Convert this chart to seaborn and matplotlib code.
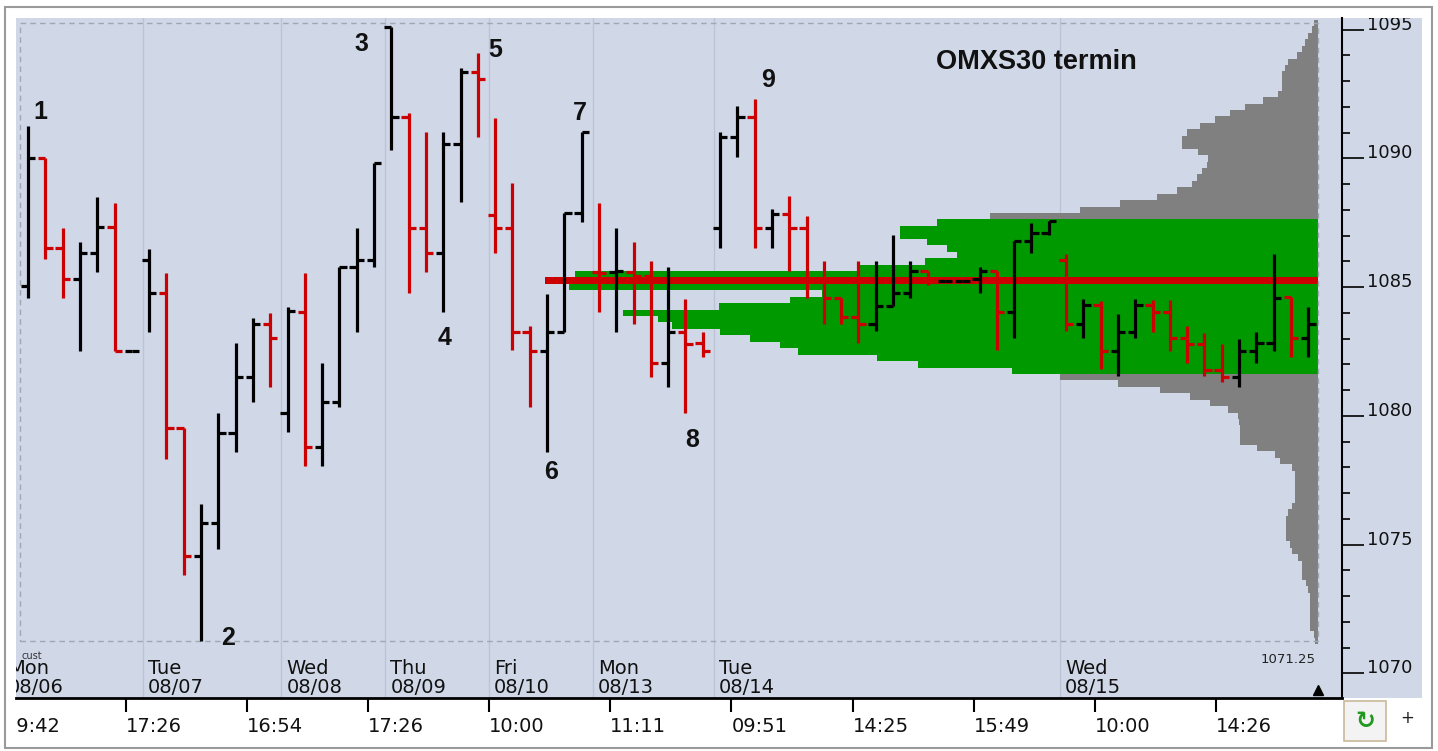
import numpy as np
import pandas as pd
import seaborn as sns
import matplotlib.pyplot as plt
from matplotlib.patches import Rectangle
from matplotlib import transforms
from matplotlib.ticker import MultipleLocator

sns.set_theme(style='white')
plt.rcParams['font.family'] = ['DejaVu Sans']

# ---- OHLC bars (one per period) ----
opens = [1085.04, 1090.01, 1086.51, 1085.31, 1086.32, 1087.33, 1082.53, 1086.05, 1084.77, 1079.52,
         1074.55, 1075.83, 1079.35, 1081.50, 1083.56, 1080.11, 1084.03, 1078.79, 1080.53, 1085.76,
         1086.05, 1095.10, 1091.60, 1087.29, 1086.32, 1090.55, 1093.35, 1087.80, 1087.29, 1083.27,
         1082.53, 1083.27, 1087.87, 1085.58, 1085.58, 1085.58, 1085.43, 1082.05, 1083.27, 1082.83,
         1087.29, 1090.83, 1091.60, 1087.29, 1087.84, 1087.29, 1085.27, 1084.57, 1083.83, 1083.56,
         1084.26, 1084.77, 1085.62, 1085.25, 1085.25, 1085.31, 1085.62, 1084.03, 1086.79, 1087.10,
         1086.05, 1083.56, 1084.30, 1082.53, 1083.27, 1084.30, 1084.03, 1083.02, 1082.79, 1081.78,
         1081.50, 1082.53, 1082.83, 1084.61, 1083.02]
highs = [1091.25, 1090.01, 1087.29, 1086.75, 1088.50, 1088.26, 1082.53, 1086.48, 1085.54, 1079.52,
         1076.57, 1080.09, 1082.81, 1083.80, 1083.99, 1084.22, 1085.54, 1082.05, 1085.76, 1087.29,
         1089.82, 1095.10, 1091.76, 1091.02, 1091.02, 1093.50, 1094.09, 1091.56, 1089.04, 1083.49,
         1084.73, 1087.87, 1091.02, 1088.26, 1087.29, 1086.75, 1086.01, 1085.76, 1084.53, 1083.27,
         1091.02, 1092.03, 1092.30, 1088.03, 1088.53, 1087.76, 1086.01, 1084.57, 1086.01, 1086.01,
         1087.02, 1086.01, 1085.62, 1085.25, 1085.25, 1085.76, 1085.62, 1086.79, 1087.49, 1087.56,
         1086.28, 1084.53, 1084.45, 1083.95, 1084.53, 1084.49, 1084.49, 1083.49, 1083.21, 1082.79,
         1082.98, 1083.27, 1086.28, 1084.61, 1084.22]
lows = [1084.57, 1086.09, 1084.57, 1082.53, 1085.58, 1082.53, 1082.53, 1083.27, 1078.32, 1073.82,
        1071.25, 1074.83, 1078.59, 1080.53, 1081.12, 1079.37, 1078.05, 1078.05, 1080.36, 1083.27,
        1085.78, 1090.32, 1084.77, 1085.58, 1084.03, 1088.30, 1090.83, 1086.32, 1082.55, 1080.34,
        1078.59, 1083.27, 1087.52, 1084.03, 1083.27, 1083.56, 1081.50, 1081.12, 1080.11, 1082.28,
        1086.51, 1090.05, 1086.51, 1086.51, 1085.62, 1084.57, 1083.56, 1083.56, 1082.83, 1083.29,
        1084.26, 1084.57, 1085.08, 1085.25, 1085.25, 1084.77, 1082.55, 1083.02, 1086.32, 1087.02,
        1083.29, 1083.02, 1081.81, 1081.54, 1083.02, 1083.27, 1082.53, 1082.05, 1081.54, 1081.31,
        1081.12, 1082.05, 1082.53, 1082.28, 1082.28]
closes = [1090.01, 1086.51, 1085.31, 1086.32, 1087.33, 1082.53, 1082.53, 1084.77, 1079.52, 1074.55,
          1075.83, 1079.35, 1081.50, 1083.56, 1083.02, 1084.07, 1078.79, 1080.53, 1085.76, 1086.05,
          1089.82, 1091.60, 1087.29, 1086.32, 1090.55, 1093.35, 1093.08, 1087.29, 1083.27, 1082.53,
          1083.27, 1087.87, 1091.02, 1085.54, 1085.62, 1085.43, 1082.05, 1083.27, 1082.79, 1082.53,
          1090.83, 1091.60, 1087.29, 1087.84, 1087.29, 1085.27, 1084.57, 1083.83, 1083.56, 1084.26,
          1084.77, 1085.62, 1085.19, 1085.25, 1085.25, 1085.62, 1084.03, 1086.79, 1087.10, 1087.56,
          1083.56, 1084.30, 1082.53, 1083.27, 1084.30, 1084.03, 1083.02, 1082.79, 1081.78, 1081.50,
          1082.53, 1082.83, 1084.57, 1083.02, 1083.56]

# ---- volume profile, price levels 1095.25 down to 1071.25 ----
profile_volume = [4, 6, 10, 13, 16, 21, 30, 33, 36, 36, 36, 40, 55, 73, 88, 103, 118, 131, 136, 136,
                  120, 110, 111, 116, 121, 126, 141, 161, 198, 238, 328,
                  381, 418, 418, 391, 371, 361, 393, 458, 743, 773, 749, 496, 528, 599, 695, 660, 646,
                  598, 568, 538, 520, 441, 400, 306,
                  258, 200, 158, 128, 108, 90, 80, 79, 78, 78, 78, 61, 43, 38, 26, 23, 23, 23, 23, 23,
                  26, 30, 32, 32, 32, 32, 28, 26, 20, 16, 16, 16, 12, 10, 8, 8, 8, 8, 8, 8, 4, 3]
POC = 1085.25
VA_HIGH, VA_LOW = 1087.5, 1081.75
RANGE_LOW, RANGE_HIGH = 1071.25, 1095.25

# ---- x axis annotations ----
day_starts = [7, 15, 21, 27, 33, 40, 60]
day_names = ['Tue', 'Wed', 'Thu', 'Fri', 'Mon', 'Tue', 'Wed']
day_dates = ['08/07', '08/08', '08/09', '08/10', '08/13', '08/14', '08/15']
time_pos = [5.66, 12.66, 19.66, 26.66, 33.66, 40.66, 47.66, 54.66, 61.66, 68.66]
time_labels = ['17:26', '16:54', '17:26', '10:00', '11:11', '09:51', '14:25', '15:49', '10:00', '14:26']

swing_labels = ['1', '2', '3', '4', '5', '6', '7', '8', '9']
swing_x = [0.69, 11.56, 19.3, 24.05, 27.0, 30.23, 31.9, 38.4, 42.8]
swing_y = [1091.8, 1071.37, 1094.44, 1083.02, 1094.2, 1077.82, 1091.76, 1079.06, 1093.04]

BG = '#d0d8e8'
RED = '#cc0000'
GREEN = '#009a00'
GREY = '#808080'

W, H = 1438, 751
fig = plt.figure(figsize=(W / 100, H / 100), dpi=100)
fig.patch.set_facecolor('white')


def fx(px):
    return px / W


def fy(py):
    return 1 - py / H


rect = [fx(16), fy(698), fx(1342) - fx(16), fy(18) - fy(698)]
axp = fig.add_axes(rect, zorder=1)
ax = fig.add_axes(rect, zorder=2, sharey=axp)
ax.patch.set_alpha(0)
axp.set_facecolor(BG)

# right price panel + outer frame
fig.add_artist(Rectangle((fx(1342), fy(698)), fx(1422) - fx(1342), fy(18) - fy(698),
                         transform=fig.transFigure, facecolor=BG, edgecolor='none', zorder=0.5))
fig.add_artist(Rectangle((fx(5), fy(748)), fx(1432) - fx(5), fy(7) - fy(748),
                         transform=fig.transFigure, fill=False, edgecolor='#9a9a9a', lw=1.5, zorder=5))

# day separators (behind the profile)
sep_tr = transforms.blended_transform_factory(ax.transData, axp.transAxes)
for d in day_starts:
    axp.plot([d - 0.35, d - 0.35], [0, 1], transform=sep_tr, color='#bcc3d4', lw=1, zorder=0.5)

# volume profile
levels = np.round(np.arange(RANGE_HIGH, RANGE_LOW - 0.1, -0.25), 2)
zone = np.where(levels == POC, 'poc',
                np.where((levels <= VA_HIGH) & (levels >= VA_LOW), 'value', 'rest'))
prof = pd.DataFrame({'price': levels, 'volume': profile_volume, 'zone': zone})
sns.histplot(data=prof, y='price', weights='volume', hue='zone',
             hue_order=['rest', 'value', 'poc'],
             palette={'rest': GREY, 'value': GREEN, 'poc': RED},
             binwidth=0.25, binrange=(RANGE_LOW - 0.125, RANGE_HIGH + 0.125),
             multiple='layer', element='bars', fill=True, alpha=1, linewidth=0,
             legend=False, ax=axp)
axp.set_xlim(1302, -24)
axp.set_xlabel('')
axp.set_ylabel('')
axp.tick_params(axis='both', which='both', left=False, right=False, bottom=False, top=False,
                labelleft=False, labelbottom=False)
for s in axp.spines.values():
    s.set_visible(False)

# OHLC bars
bars = pd.DataFrame({'open': opens, 'high': highs, 'low': lows, 'close': closes})
bars['idx'] = np.arange(len(bars))
prev = bars['close'].shift(1)
bars['color'] = np.where(prev.isna() | (bars['close'] >= prev), 'black', RED)
lw = 2.3
ax.vlines(bars['idx'], bars['low'], bars['high'], colors=bars['color'], lw=lw, zorder=3)
ax.hlines(bars['open'], bars['idx'] - 0.42, bars['idx'], colors=bars['color'], lw=lw, zorder=3)
ax.hlines(bars['close'], bars['idx'], bars['idx'] + 0.42, colors=bars['color'], lw=lw, zorder=3)

# dashed range box
ax.add_patch(Rectangle((-0.46, RANGE_LOW), 75.03, RANGE_HIGH - RANGE_LOW, fill=False,
                       ls=(0, (4, 3)), edgecolor='#a0a6b2', lw=1, zorder=1))

ax.set_xlim(-0.694, 75.95)
ax.set_ylim(1069.04, 1095.45)

# price axis
ax.yaxis.tick_right()
ax.set_yticks([1070, 1075, 1080, 1085, 1090, 1095])
ax.yaxis.set_minor_locator(MultipleLocator(1))
ax.tick_params(axis='y', which='major', direction='out', length=16, width=1.2, color='black',
               labelsize=13, pad=2, right=True, left=False, labelright=True, labelleft=False,
               labelcolor='#111111')
ax.tick_params(axis='y', which='minor', direction='out', length=6, width=1.2, color='black',
               right=True, left=False)
right_clip = Rectangle((fx(1342), fy(698)), fx(1422) - fx(1342), fy(18) - fy(698),
                       transform=fig.transFigure)
for lab in ax.get_yticklabels():
    lab.set_verticalalignment('baseline')
    lab.set_clip_path(right_clip)
    lab.set_clip_on(True)

# time axis
ax.set_xticks(time_pos)
ax.set_xticklabels(time_labels, ha='left')
ax.tick_params(axis='x', direction='out', length=10, width=1.5, color='black', labelsize=14,
               pad=4, bottom=True, labelcolor='#111111')
bottom_clip = Rectangle((fx(16), 0), fx(1342) - fx(16), fy(698), transform=fig.transFigure)
t = ax.text(-1.34, fy(726), '09:42', transform=transforms.blended_transform_factory(ax.transData, fig.transFigure),
            ha='left', va='center', fontsize=14, color='#111111', clip_on=True)
t.set_clip_path(bottom_clip)

for name, s in ax.spines.items():
    s.set_visible(name in ('bottom', 'right'))
ax.spines['bottom'].set_linewidth(2)
ax.spines['bottom'].set_color('black')
ax.spines['right'].set_linewidth(1.5)
ax.spines['right'].set_color('black')

# day / date labels
dtr = transforms.blended_transform_factory(ax.transData, ax.transAxes)
ax.text(-1.16, 0.0353, 'Mon', transform=dtr, fontsize=14, color='#111111', clip_on=True)
ax.text(-1.16, 0.0074, '08/06', transform=dtr, fontsize=14, color='#111111', clip_on=True)
for d, nm, dt in zip(day_starts, day_names, day_dates):
    ax.text(d - 0.06, 0.0353, nm, transform=dtr, fontsize=14, color='#111111')
    ax.text(d - 0.06, 0.0074, dt, transform=dtr, fontsize=14, color='#111111')
ax.text(0.0045, 0.058, 'cust', transform=ax.transAxes, fontsize=7, color='#333333')
ax.text(74.45, 0.0515, '1071.25', transform=dtr, fontsize=9.5, color='#222222', ha='right')
ax.plot([74.57], [0.012], transform=dtr, marker='^', color='black', ms=7, clip_on=False)

# swing point numbers and title
for s, x, y in zip(swing_labels, swing_x, swing_y):
    ax.text(x, y, s, ha='center', va='center', fontsize=18, fontweight='bold',
            family='Liberation Sans', color='#111111', zorder=4)
ax.text(58.27, 1093.74, 'OMXS30 termin', ha='center', va='center', fontsize=19.5,
        fontweight='bold', family='Liberation Sans', color='#111111', zorder=4)

# bottom-right buttons
fig.add_artist(Rectangle((fx(1344), fy(741)), fx(1386) - fx(1344), fy(701) - fy(741),
                         transform=fig.transFigure, facecolor='#f3f3f3', edgecolor='#c9b99b',
                         lw=1.2, zorder=3))
fig.text(fx(1365), fy(721), '\u21bb', ha='center', va='center', fontsize=17, fontweight='bold',
         color='#1f9a1f', zorder=4)
fig.text(fx(1407), fy(718), '+', ha='center', va='center', fontsize=12, color='#222222', zorder=4)

fig.savefig('out.png', dpi=100, facecolor='white')
